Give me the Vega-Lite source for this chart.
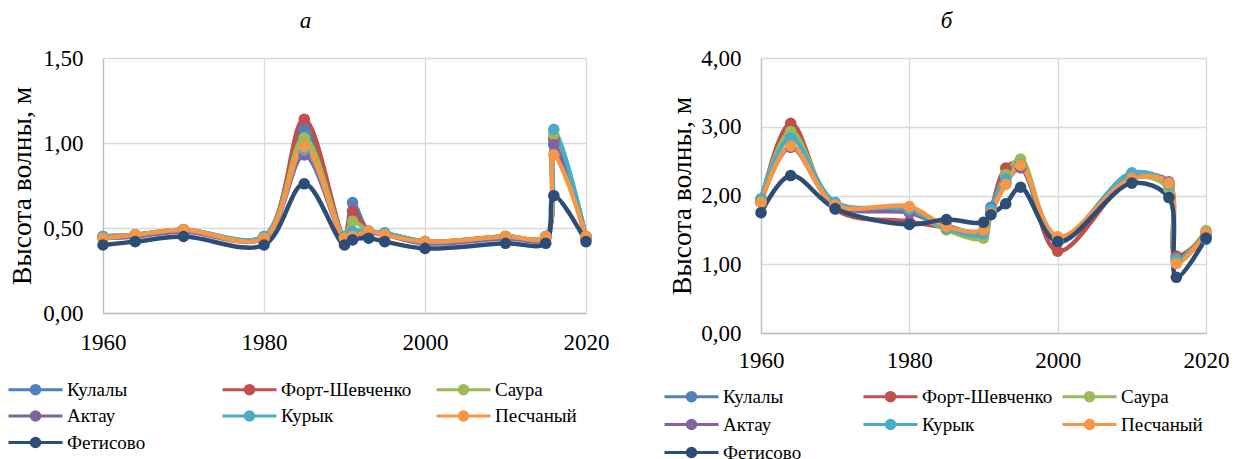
{
  "$schema": "https://vega.github.io/schema/vega-lite/v6.json",
  "background": "white",
  "padding": {"left": 8, "top": 10, "right": 2, "bottom": 2},
  "config": {
    "font": "Liberation Serif, Times New Roman, serif",
    "view": {"stroke": null},
    "axis": {
      "labelFont": "Liberation Serif, Times New Roman, serif",
      "labelFontSize": 23,
      "labelColor": "black",
      "labelFlush": false,
      "titleFont": "Liberation Serif, Times New Roman, serif",
      "titleFontSize": 27.5,
      "titleFontWeight": "normal",
      "titleColor": "black",
      "ticks": false,
      "gridColor": "#d9d9d9",
      "gridWidth": 1.3,
      "domainColor": "#bfbfbf",
      "domainWidth": 1.3,
      "labelPadding": 20
    },
    "legend": {
      "labelFont": "Liberation Serif, Times New Roman, serif",
      "labelFontSize": 19,
      "labelColor": "black",
      "labelLimit": 250
    },
    "title": {
      "font": "Liberation Serif, Times New Roman, serif",
      "fontSize": 23,
      "fontStyle": "italic",
      "fontWeight": "normal",
      "color": "black"
    }
  },
  "datasets": {
    "a": [
      {"station": "Кулалы", "year": 1960, "h": 0.45}, {"station": "Кулалы", "year": 1964, "h": 0.46}, {"station": "Кулалы", "year": 1970, "h": 0.49}, {"station": "Кулалы", "year": 1980, "h": 0.45}, {"station": "Кулалы", "year": 1985, "h": 1.08}, {"station": "Кулалы", "year": 1990, "h": 0.45}, {"station": "Кулалы", "year": 1991, "h": 0.65}, {"station": "Кулалы", "year": 1993, "h": 0.48}, {"station": "Кулалы", "year": 1995, "h": 0.47}, {"station": "Кулалы", "year": 2000, "h": 0.42}, {"station": "Кулалы", "year": 2010, "h": 0.45}, {"station": "Кулалы", "year": 2015, "h": 0.45}, {"station": "Кулалы", "year": 2016, "h": 1.03}, {"station": "Кулалы", "year": 2020, "h": 0.45},
      {"station": "Форт-Шевченко", "year": 1960, "h": 0.45}, {"station": "Форт-Шевченко", "year": 1964, "h": 0.46}, {"station": "Форт-Шевченко", "year": 1970, "h": 0.49}, {"station": "Форт-Шевченко", "year": 1980, "h": 0.45}, {"station": "Форт-Шевченко", "year": 1985, "h": 1.14}, {"station": "Форт-Шевченко", "year": 1990, "h": 0.45}, {"station": "Форт-Шевченко", "year": 1991, "h": 0.60}, {"station": "Форт-Шевченко", "year": 1993, "h": 0.48}, {"station": "Форт-Шевченко", "year": 1995, "h": 0.47}, {"station": "Форт-Шевченко", "year": 2000, "h": 0.42}, {"station": "Форт-Шевченко", "year": 2010, "h": 0.45}, {"station": "Форт-Шевченко", "year": 2015, "h": 0.45}, {"station": "Форт-Шевченко", "year": 2016, "h": 1.02}, {"station": "Форт-Шевченко", "year": 2020, "h": 0.45},
      {"station": "Саура", "year": 1960, "h": 0.45}, {"station": "Саура", "year": 1964, "h": 0.46}, {"station": "Саура", "year": 1970, "h": 0.49}, {"station": "Саура", "year": 1980, "h": 0.45}, {"station": "Саура", "year": 1985, "h": 1.03}, {"station": "Саура", "year": 1990, "h": 0.45}, {"station": "Саура", "year": 1991, "h": 0.54}, {"station": "Саура", "year": 1993, "h": 0.48}, {"station": "Саура", "year": 1995, "h": 0.47}, {"station": "Саура", "year": 2000, "h": 0.42}, {"station": "Саура", "year": 2010, "h": 0.45}, {"station": "Саура", "year": 2015, "h": 0.45}, {"station": "Саура", "year": 2016, "h": 1.05}, {"station": "Саура", "year": 2020, "h": 0.45},
      {"station": "Актау", "year": 1960, "h": 0.44}, {"station": "Актау", "year": 1964, "h": 0.45}, {"station": "Актау", "year": 1970, "h": 0.48}, {"station": "Актау", "year": 1980, "h": 0.44}, {"station": "Актау", "year": 1985, "h": 0.93}, {"station": "Актау", "year": 1990, "h": 0.44}, {"station": "Актау", "year": 1991, "h": 0.45}, {"station": "Актау", "year": 1993, "h": 0.47}, {"station": "Актау", "year": 1995, "h": 0.46}, {"station": "Актау", "year": 2000, "h": 0.41}, {"station": "Актау", "year": 2010, "h": 0.44}, {"station": "Актау", "year": 2015, "h": 0.44}, {"station": "Актау", "year": 2016, "h": 0.99}, {"station": "Актау", "year": 2020, "h": 0.44},
      {"station": "Курык", "year": 1960, "h": 0.45}, {"station": "Курык", "year": 1964, "h": 0.46}, {"station": "Курык", "year": 1970, "h": 0.49}, {"station": "Курык", "year": 1980, "h": 0.45}, {"station": "Курык", "year": 1985, "h": 0.96}, {"station": "Курык", "year": 1990, "h": 0.45}, {"station": "Курык", "year": 1991, "h": 0.48}, {"station": "Курык", "year": 1993, "h": 0.48}, {"station": "Курык", "year": 1995, "h": 0.47}, {"station": "Курык", "year": 2000, "h": 0.42}, {"station": "Курык", "year": 2010, "h": 0.45}, {"station": "Курык", "year": 2015, "h": 0.45}, {"station": "Курык", "year": 2016, "h": 1.08}, {"station": "Курык", "year": 2020, "h": 0.45},
      {"station": "Песчаный", "year": 1960, "h": 0.44}, {"station": "Песчаный", "year": 1964, "h": 0.46}, {"station": "Песчаный", "year": 1970, "h": 0.49}, {"station": "Песчаный", "year": 1980, "h": 0.44}, {"station": "Песчаный", "year": 1985, "h": 0.98}, {"station": "Песчаный", "year": 1990, "h": 0.44}, {"station": "Песчаный", "year": 1991, "h": 0.45}, {"station": "Песчаный", "year": 1993, "h": 0.48}, {"station": "Песчаный", "year": 1995, "h": 0.46}, {"station": "Песчаный", "year": 2000, "h": 0.42}, {"station": "Песчаный", "year": 2010, "h": 0.45}, {"station": "Песчаный", "year": 2015, "h": 0.45}, {"station": "Песчаный", "year": 2016, "h": 0.93}, {"station": "Песчаный", "year": 2020, "h": 0.45},
      {"station": "Фетисово", "year": 1960, "h": 0.40}, {"station": "Фетисово", "year": 1964, "h": 0.42}, {"station": "Фетисово", "year": 1970, "h": 0.45}, {"station": "Фетисово", "year": 1980, "h": 0.40}, {"station": "Фетисово", "year": 1985, "h": 0.76}, {"station": "Фетисово", "year": 1990, "h": 0.40}, {"station": "Фетисово", "year": 1991, "h": 0.43}, {"station": "Фетисово", "year": 1993, "h": 0.44}, {"station": "Фетисово", "year": 1995, "h": 0.42}, {"station": "Фетисово", "year": 2000, "h": 0.38}, {"station": "Фетисово", "year": 2010, "h": 0.41}, {"station": "Фетисово", "year": 2015, "h": 0.41}, {"station": "Фетисово", "year": 2016, "h": 0.69}, {"station": "Фетисово", "year": 2020, "h": 0.42}
    ],
    "b": [
      {"station": "Кулалы", "year": 1960, "h": 1.95}, {"station": "Кулалы", "year": 1964, "h": 2.85}, {"station": "Кулалы", "year": 1970, "h": 1.88}, {"station": "Кулалы", "year": 1980, "h": 1.78}, {"station": "Кулалы", "year": 1985, "h": 1.56}, {"station": "Кулалы", "year": 1990, "h": 1.46}, {"station": "Кулалы", "year": 1991, "h": 1.83}, {"station": "Кулалы", "year": 1993, "h": 2.20}, {"station": "Кулалы", "year": 1995, "h": 2.48}, {"station": "Кулалы", "year": 2000, "h": 1.32}, {"station": "Кулалы", "year": 2010, "h": 2.28}, {"station": "Кулалы", "year": 2015, "h": 2.17}, {"station": "Кулалы", "year": 2016, "h": 1.10}, {"station": "Кулалы", "year": 2020, "h": 1.36},
      {"station": "Форт-Шевченко", "year": 1960, "h": 1.90}, {"station": "Форт-Шевченко", "year": 1964, "h": 3.05}, {"station": "Форт-Шевченко", "year": 1970, "h": 1.80}, {"station": "Форт-Шевченко", "year": 1980, "h": 1.62}, {"station": "Форт-Шевченко", "year": 1985, "h": 1.53}, {"station": "Форт-Шевченко", "year": 1990, "h": 1.45}, {"station": "Форт-Шевченко", "year": 1991, "h": 1.78}, {"station": "Форт-Шевченко", "year": 1993, "h": 2.40}, {"station": "Форт-Шевченко", "year": 1995, "h": 2.47}, {"station": "Форт-Шевченко", "year": 2000, "h": 1.19}, {"station": "Форт-Шевченко", "year": 2010, "h": 2.25}, {"station": "Форт-Шевченко", "year": 2015, "h": 2.15}, {"station": "Форт-Шевченко", "year": 2016, "h": 1.12}, {"station": "Форт-Шевченко", "year": 2020, "h": 1.42},
      {"station": "Саура", "year": 1960, "h": 1.93}, {"station": "Саура", "year": 1964, "h": 2.93}, {"station": "Саура", "year": 1970, "h": 1.87}, {"station": "Саура", "year": 1980, "h": 1.76}, {"station": "Саура", "year": 1985, "h": 1.50}, {"station": "Саура", "year": 1990, "h": 1.38}, {"station": "Саура", "year": 1991, "h": 1.76}, {"station": "Саура", "year": 1993, "h": 2.30}, {"station": "Саура", "year": 1995, "h": 2.53}, {"station": "Саура", "year": 2000, "h": 1.33}, {"station": "Саура", "year": 2010, "h": 2.27}, {"station": "Саура", "year": 2015, "h": 2.10}, {"station": "Саура", "year": 2016, "h": 1.05}, {"station": "Саура", "year": 2020, "h": 1.49},
      {"station": "Актау", "year": 1960, "h": 1.92}, {"station": "Актау", "year": 1964, "h": 2.70}, {"station": "Актау", "year": 1970, "h": 1.86}, {"station": "Актау", "year": 1980, "h": 1.75}, {"station": "Актау", "year": 1985, "h": 1.56}, {"station": "Актау", "year": 1990, "h": 1.46}, {"station": "Актау", "year": 1991, "h": 1.78}, {"station": "Актау", "year": 1993, "h": 2.18}, {"station": "Актау", "year": 1995, "h": 2.40}, {"station": "Актау", "year": 2000, "h": 1.35}, {"station": "Актау", "year": 2010, "h": 2.26}, {"station": "Актау", "year": 2015, "h": 2.20}, {"station": "Актау", "year": 2016, "h": 1.05}, {"station": "Актау", "year": 2020, "h": 1.45},
      {"station": "Курык", "year": 1960, "h": 1.95}, {"station": "Курык", "year": 1964, "h": 2.84}, {"station": "Курык", "year": 1970, "h": 1.90}, {"station": "Курык", "year": 1980, "h": 1.80}, {"station": "Курык", "year": 1985, "h": 1.52}, {"station": "Курык", "year": 1990, "h": 1.44}, {"station": "Курык", "year": 1991, "h": 1.80}, {"station": "Курык", "year": 1993, "h": 2.25}, {"station": "Курык", "year": 1995, "h": 2.45}, {"station": "Курык", "year": 2000, "h": 1.34}, {"station": "Курык", "year": 2010, "h": 2.33}, {"station": "Курык", "year": 2015, "h": 2.15}, {"station": "Курык", "year": 2016, "h": 1.08}, {"station": "Курык", "year": 2020, "h": 1.40},
      {"station": "Песчаный", "year": 1960, "h": 1.90}, {"station": "Песчаный", "year": 1964, "h": 2.72}, {"station": "Песчаный", "year": 1970, "h": 1.86}, {"station": "Песчаный", "year": 1980, "h": 1.84}, {"station": "Песчаный", "year": 1985, "h": 1.55}, {"station": "Песчаный", "year": 1990, "h": 1.50}, {"station": "Песчаный", "year": 1991, "h": 1.74}, {"station": "Песчаный", "year": 1993, "h": 2.16}, {"station": "Песчаный", "year": 1995, "h": 2.44}, {"station": "Песчаный", "year": 2000, "h": 1.40}, {"station": "Песчаный", "year": 2010, "h": 2.25}, {"station": "Песчаный", "year": 2015, "h": 2.18}, {"station": "Песчаный", "year": 2016, "h": 1.01}, {"station": "Песчаный", "year": 2020, "h": 1.45},
      {"station": "Фетисово", "year": 1960, "h": 1.75}, {"station": "Фетисово", "year": 1964, "h": 2.29}, {"station": "Фетисово", "year": 1970, "h": 1.81}, {"station": "Фетисово", "year": 1980, "h": 1.58}, {"station": "Фетисово", "year": 1985, "h": 1.65}, {"station": "Фетисово", "year": 1990, "h": 1.61}, {"station": "Фетисово", "year": 1991, "h": 1.72}, {"station": "Фетисово", "year": 1993, "h": 1.88}, {"station": "Фетисово", "year": 1995, "h": 2.12}, {"station": "Фетисово", "year": 2000, "h": 1.33}, {"station": "Фетисово", "year": 2010, "h": 2.18}, {"station": "Фетисово", "year": 2015, "h": 1.97}, {"station": "Фетисово", "year": 2016, "h": 0.81}, {"station": "Фетисово", "year": 2020, "h": 1.38}
    ]
  },
  "bounds": "flush",
  "spacing": 175,
  "resolve": {
    "scale": {"color": "independent", "x": "independent", "y": "independent"},
    "legend": {"color": "independent"}
  },
  "hconcat": [
    {
      "width": 483,
      "height": 255,
      "title": {"text": "а", "frame": "group", "anchor": "middle", "dx": -39, "baseline": "alphabetic", "offset": -4},
      "data": {"name": "a"},
      "mark": {"type": "line", "interpolate": "catmull-rom", "strokeWidth": 4.5, "point": {"filled": true, "size": 135, "opacity": 1}},
      "encoding": {
        "x": {"field": "year", "type": "quantitative", "scale": {"domain": [1960, 2020], "nice": false, "zero": false},
              "axis": {"values": [1960, 1980, 2000, 2020], "format": "d", "title": null, "labelPadding": 18}},
        "y": {"field": "h", "type": "quantitative", "scale": {"domain": [0, 1.5], "nice": false},
              "axis": {"values": [0, 0.5, 1, 1.5], "labelExpr": "replace(format(datum.value, '.2f'), '.', ',')", "title": "Высота волны, м", "titlePadding": 6}},
        "color": {"field": "station", "type": "nominal",
                  "scale": {"domain": ["Кулалы", "Форт-Шевченко", "Саура", "Актау", "Курык", "Песчаный", "Фетисово"],
                            "range": ["#4F81BD", "#C0504D", "#9BBB59", "#8064A2", "#4BACC6", "#F79646", "#2C4D75"]},
                  "legend": {"orient": "none", "direction": "horizontal", "legendX": -77, "legendY": 322, "columns": 3, "gridAlign": "all", "columnPadding": 18, "rowPadding": 5.5, "title": null, "padding": 0,
                             "symbolType": "M-5.4,0H5.4M0.85,0A0.85,0.85,0,1,1,-0.85,0A0.85,0.85,0,1,1,0.85,0M0.3,0A0.3,0.3,0,1,1,-0.3,0A0.3,0.3,0,1,1,0.3,0",
                             "symbolSize": 100, "symbolStrokeWidth": 3, "labelOffset": 22}}
      }
    },
    {
      "width": 445,
      "height": 275,
      "title": {"text": "б", "frame": "group", "anchor": "middle", "dx": -37, "baseline": "alphabetic", "offset": -4},
      "data": {"name": "b"},
      "mark": {"type": "line", "interpolate": "catmull-rom", "strokeWidth": 4.5, "point": {"filled": true, "size": 135, "opacity": 1}},
      "encoding": {
        "x": {"field": "year", "type": "quantitative", "scale": {"domain": [1960, 2020], "nice": false, "zero": false},
              "axis": {"values": [1960, 1980, 2000, 2020], "format": "d", "title": null, "labelPadding": 16}},
        "y": {"field": "h", "type": "quantitative", "scale": {"domain": [0, 4], "nice": false},
              "axis": {"values": [0, 1, 2, 3, 4], "labelExpr": "replace(format(datum.value, '.2f'), '.', ',')", "title": "Высота волны, м", "titlePadding": 4}},
        "color": {"field": "station", "type": "nominal",
                  "scale": {"domain": ["Кулалы", "Форт-Шевченко", "Саура", "Актау", "Курык", "Песчаный", "Фетисово"],
                            "range": ["#4F81BD", "#C0504D", "#9BBB59", "#8064A2", "#4BACC6", "#F79646", "#2C4D75"]},
                  "legend": {"orient": "none", "direction": "horizontal", "legendX": -79, "legendY": 329, "columns": 3, "gridAlign": "all", "columnPadding": 3, "rowPadding": 7, "title": null, "padding": 0,
                             "symbolType": "M-5.4,0H5.4M0.85,0A0.85,0.85,0,1,1,-0.85,0A0.85,0.85,0,1,1,0.85,0M0.3,0A0.3,0.3,0,1,1,-0.3,0A0.3,0.3,0,1,1,0.3,0",
                             "symbolSize": 100, "symbolStrokeWidth": 3, "labelOffset": 22}}
      }
    }
  ]
}
